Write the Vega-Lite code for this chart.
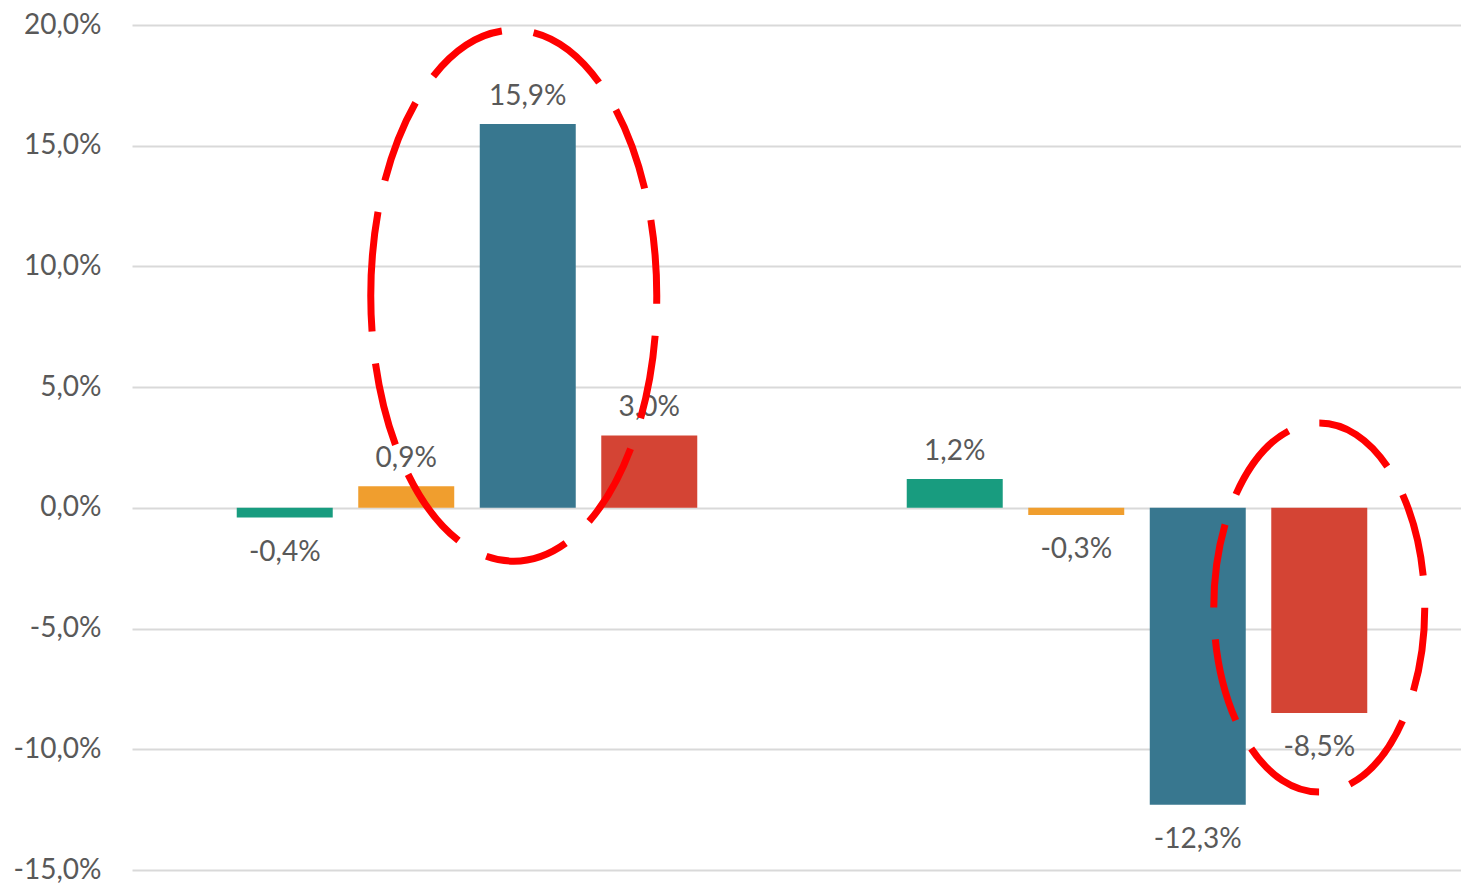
{
  "$schema": "https://vega.github.io/schema/vega-lite/v6.json",
  "width": 1329,
  "height": 845,
  "autosize": {"type": "none"},
  "padding": {"left": 132, "top": 25, "right": 0, "bottom": 15},
  "background": "white",
  "config": {
    "view": {"stroke": null},
    "locale": {"number": {"decimal": ",", "thousands": ".", "grouping": [3], "currency": ["", " €"], "minus": "-"}},
    "text": {"font": "Lato"}
  },
  "datasets": {
    "bars": [
      {"group": "A", "series": "s1", "value": -0.004},
      {"group": "A", "series": "s2", "value": 0.009},
      {"group": "A", "series": "s3", "value": 0.159},
      {"group": "A", "series": "s4", "value": 0.030},
      {"group": "B", "series": "s1", "value": 0.012},
      {"group": "B", "series": "s2", "value": -0.003},
      {"group": "B", "series": "s3", "value": -0.123},
      {"group": "B", "series": "s4", "value": -0.085}
    ],
    "ellipses": [
      {"id": 1, "group": "A", "series": "s3", "center": 0.0879},
      {"id": 2, "group": "B", "series": "s4", "center": -0.0413}
    ]
  },
  "encoding": {
    "x": {"field": "group", "type": "nominal", "axis": null, "scale": {"range": [0, 1340], "paddingInner": 0, "paddingOuter": 0}},
    "xOffset": {"field": "series", "type": "nominal", "scale": {"paddingInner": 0.21, "paddingOuter": 0.862}}
  },
  "layer": [
    {
      "data": {"name": "bars"},
      "mark": {"type": "bar"},
      "encoding": {
        "y": {"field": "value", "type": "quantitative", "scale": {"domain": [-0.15, 0.2], "nice": false},
          "axis": {"title": null, "values": [-0.15, -0.1, -0.05, 0, 0.05, 0.1, 0.15, 0.2], "format": ".1%",
            "grid": true, "gridColor": "#d9d9d9", "gridWidth": 2, "domain": false, "ticks": false,
            "labelPadding": 31, "labelFont": "Lato", "labelFontSize": 28, "labelColor": "#595959"}},
        "color": {"field": "series", "type": "nominal", "legend": null,
          "scale": {"domain": ["s1", "s2", "s3", "s4"], "range": ["#189c7f", "#f09e2e", "#38778f", "#d44434"]}}
      }
    },
    {
      "data": {"name": "bars"},
      "transform": [{"filter": "datum.value >= 0"}],
      "mark": {"type": "text", "baseline": "alphabetic", "dy": -19, "fontSize": 28, "color": "#595959"},
      "encoding": {
        "y": {"field": "value", "type": "quantitative"},
        "text": {"field": "value", "type": "quantitative", "format": ".1%"}
      }
    },
    {
      "data": {"name": "bars"},
      "transform": [{"filter": "datum.value < 0"}],
      "mark": {"type": "text", "baseline": "alphabetic", "dy": 43, "fontSize": 28, "color": "#595959"},
      "encoding": {
        "y": {"field": "value", "type": "quantitative"},
        "text": {"field": "value", "type": "quantitative", "format": ".1%"}
      }
    },
    {
      "data": {"name": "ellipses"},
      "transform": [{"filter": "datum.id == 1"}],
      "mark": {"type": "point", "filled": false, "stroke": "#ff0000", "strokeWidth": 7, "strokeDash": [84, 32], "opacity": 1, "strokeOpacity": 1,
        "size": 281961,
        "shape": "M-0.5913,0C-0.5913,-0.552,-0.350,-1,-0.0527,-1C0.2446,-1,0.4859,-0.552,0.4859,0C0.4859,0.552,0.2446,1,-0.0527,1C-0.350,1,-0.5913,0.552,-0.5913,0Z"},
      "encoding": {
        "y": {"field": "center", "type": "quantitative"}
      }
    },
    {
      "data": {"name": "ellipses"},
      "transform": [{"filter": "datum.id == 2"}],
      "mark": {"type": "point", "filled": false, "stroke": "#ff0000", "strokeWidth": 7, "strokeDash": [84, 32], "opacity": 1, "strokeOpacity": 1,
        "size": 136161,
        "shape": "M-0.5718,0C-0.5718,-0.552,-0.3157,-1,0,-1C0.3157,-1,0.5718,-0.552,0.5718,0C0.5718,0.552,0.3157,1,0,1C-0.3157,1,-0.5718,0.552,-0.5718,0Z"},
      "encoding": {
        "y": {"field": "center", "type": "quantitative"}
      }
    }
  ]
}
